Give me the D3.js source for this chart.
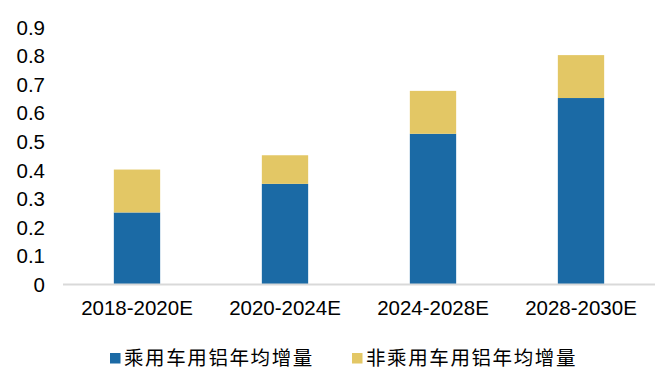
<!DOCTYPE html>
<html>
<head>
<meta charset="utf-8">
<script src="https://cdn.jsdelivr.net/npm/d3@7"></script>
<style>
  html, body { margin: 0; padding: 0; background: #ffffff; }
  svg { display: block; }
</style>
</head>
<body>
<svg id="chart" width="660" height="370"></svg>
<script>
// Periods on the x axis
const periods = ["2018-2020E", "2020-2024E", "2024-2028E", "2028-2030E"];
// Annual aluminium increase, passenger vehicles
const passengerValues = [0.25, 0.35, 0.525, 0.65];
// Annual aluminium increase, non-passenger vehicles
const nonPassengerValues = [0.15, 0.10, 0.15, 0.15];
// Series names and y tick values
const seriesNames = ["乘用车用铝年均增量", "非乘用车用铝年均增量"];
const yTicks = [0, 0.1, 0.2, 0.3, 0.4, 0.5, 0.6, 0.7, 0.8, 0.9];

const colors = ["#1B6AA5", "#E3C765"];
const latinFont = "'Liberation Sans', Arial, sans-serif";
const cjkFont = "'Noto Sans CJK SC', 'Noto Sans', sans-serif";

const svg = d3.select("#chart");

const x = d3.scaleBand().domain(periods).range([63, 655]).paddingInner(0.687).paddingOuter(0.3435);
const y = d3.scaleLinear().domain([0, 0.9]).range([284, 26.5]);

const rows = periods.map((p, i) => ({ period: p, passenger: passengerValues[i], nonPassenger: nonPassengerValues[i] }));
const stacked = d3.stack().keys(["passenger", "nonPassenger"])(rows);

// Stacked bars
svg.append("g").selectAll("g").data(stacked).join("g")
  .attr("fill", (d, i) => colors[i])
  .selectAll("rect").data(d => d).join("rect")
  .attr("x", d => x(d.data.period))
  .attr("width", x.bandwidth())
  .attr("y", d => y(d[1]))
  .attr("height", d => y(d[0]) - y(d[1]));

// Baseline
svg.append("line")
  .attr("x1", 63).attr("x2", 655)
  .attr("y1", y(0) + 0.5).attr("y2", y(0) + 0.5)
  .attr("stroke", "#D9D9D9").attr("stroke-width", 2);

// Y axis labels
const yAxis = d3.axisLeft(y).tickValues(yTicks).tickSize(0).tickPadding(0)
  .tickFormat(d => d === 0 ? "0" : d3.format(".1f")(d));
const gy = svg.append("g").attr("transform", "translate(45,1)").call(yAxis);
gy.select(".domain").remove();
gy.selectAll("text").attr("font-family", latinFont).attr("font-size", "20.5px").attr("fill", "#000");

// X axis labels
const xAxis = d3.axisBottom(x).tickSize(0).tickPadding(0);
const gx = svg.append("g").attr("transform", "translate(0,300)").call(xAxis);
gx.select(".domain").remove();
gx.selectAll("text").attr("font-family", latinFont).attr("font-size", "20.5px").attr("fill", "#000").attr("dy", "0.71em");

// Legend
const legendX = [110, 352];
const legend = svg.append("g").selectAll("g").data(seriesNames).join("g")
  .attr("transform", (d, i) => `translate(${legendX[i]},353)`);
legend.append("rect").attr("width", 10.5).attr("height", 10.5).attr("fill", (d, i) => colors[i]);
legend.append("text")
  .attr("x", 14).attr("y", 4.5).attr("dy", "0.36em")
  .attr("font-family", cjkFont).attr("font-size", "19.5px")
  .attr("letter-spacing", "1.6px").attr("fill", "#000")
  .text(d => d);
</script>
</body>
</html>
